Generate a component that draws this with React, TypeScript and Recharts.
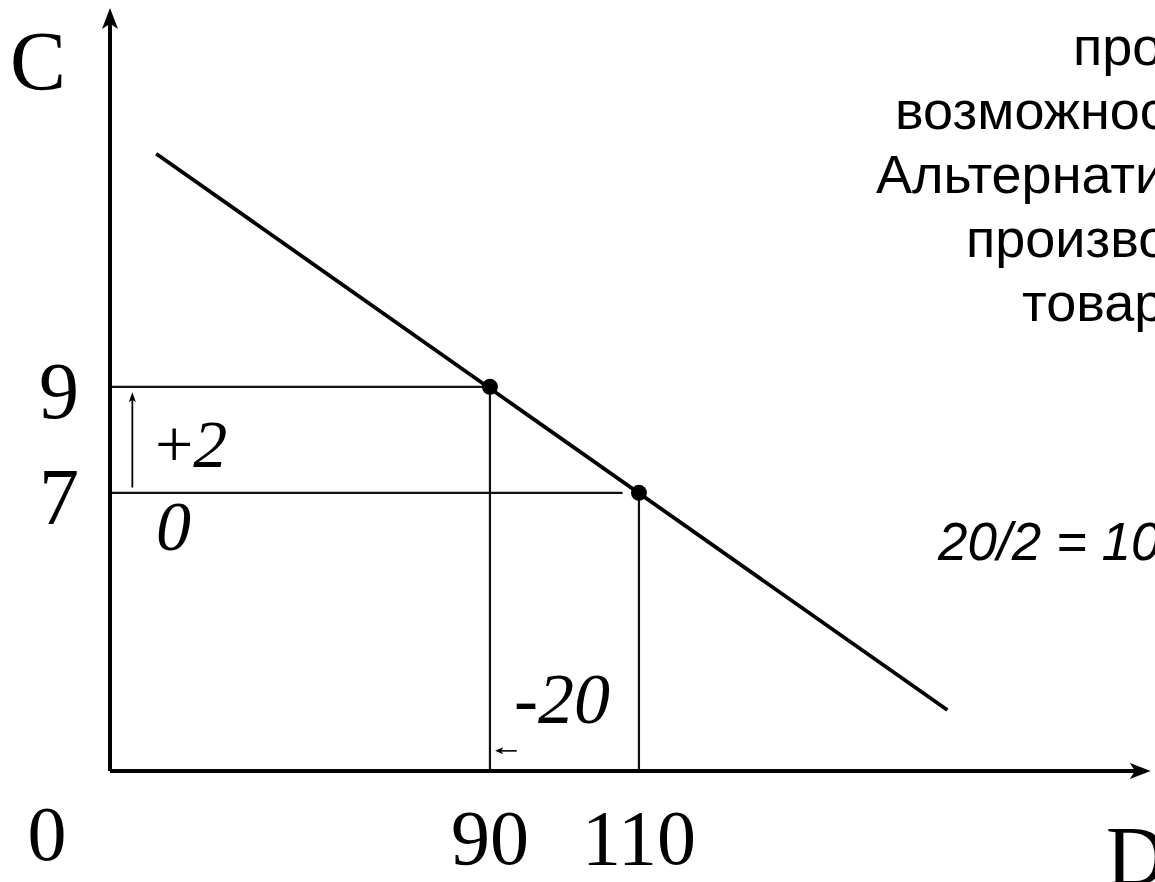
import { ComposedChart, Line, Scatter, XAxis, YAxis, ReferenceLine } from 'recharts';

// scale domains (schematic axes, origin is not at 0)
const domainD: [number, number] = [39, 179];
const domainC: [number, number] = [1.75, 16.15];

// demand line end points
const demandD = [45.2, 151.4];
const demandC = [13.4, 2.9];

// the two marked points
const pointD = [90, 110];
const pointC = [9, 7];

const dTicks = [90, 110];
const cTicks = [7, 9];

// small shift arrows: +2 (vertical at d=42), -20 (horizontal at c=2.13)
const upArrowD = 42;
const upArrowC = [7.1, 8.9];
const leftArrowC = 2.13;
const leftArrowD = [93.6, 90.7];

const noteLines = ['про', 'возможнос', 'Альтернати', 'произво', 'товар'];

const serif = '"Liberation Serif", "Times New Roman", serif';
const sans = '"Liberation Sans", Arial, sans-serif';

const demand = demandD.map((d, i) => ({ d, c: demandC[i] }));
const points = pointD.map((d, i) => ({ d, c: pointC[i] }));

const arrowShape = (head: number, half: number, width: number) => (props: any) => {
    const { x1, y1, x2, y2 } = props;
    const len = Math.hypot(x2 - x1, y2 - y1) || 1;
    const ux = (x2 - x1) / len;
    const uy = (y2 - y1) / len;
    const bx = x2 - ux * head;
    const by = y2 - uy * head;
    const nx = -uy;
    const ny = ux;
    const notch = head * 0.75;
    const pts = [
        [x2, y2],
        [bx + nx * half, by + ny * half],
        [x2 - ux * notch, y2 - uy * notch],
        [bx - nx * half, by - ny * half],
    ];
    return (
        <g>
            <line x1={x1} y1={y1} x2={x2 - ux * notch} y2={y2 - uy * notch} stroke='#000' strokeWidth={width} />
            <polygon points={pts.map((p) => p.join(',')).join(' ')} fill='#000' />
        </g>
    );
};

const XTick = (p: any) => (
    <text x={p.x} y={p.y + 93} textAnchor='middle' fontFamily={serif} fontSize={78} fill='#000'>
        {p.payload.value}
    </text>
);

const YTick = (p: any) => (
    <text x={p.x - 51} y={p.y + 31} textAnchor='middle' fontFamily={serif} fontSize={80} fill='#000'>
        {p.payload.value}
    </text>
);

export default function App() {
    const noteX = [1073, 895, 876, 966, 1022];
    return (
        <div style={{ position: 'absolute', left: 0, top: 0, width: 1155, height: 882, overflow: 'hidden', background: '#fff' }}>
            <ComposedChart width={1155} height={882} margin={{ top: 8, right: 2, bottom: 0, left: 0 }}>
                <XAxis
                    type='number'
                    dataKey='d'
                    domain={domainD}
                    ticks={dTicks}
                    height={111}
                    axisLine={false}
                    tickLine={false}
                    tickSize={0}
                    tickMargin={0}
                    tick={XTick}
                    allowDataOverflow
                />
                <YAxis
                    type='number'
                    dataKey='c'
                    domain={domainC}
                    ticks={cTicks}
                    width={110}
                    axisLine={false}
                    tickLine={false}
                    tickSize={0}
                    tickMargin={0}
                    tick={YTick}
                    allowDataOverflow
                />

                {/* guide lines */}
                <ReferenceLine segment={[{ x: domainD[0], y: pointC[0] }, { x: pointD[0], y: pointC[0] }]} stroke='#111' strokeWidth={2.2} ifOverflow='visible' />
                <ReferenceLine segment={[{ x: domainD[0], y: pointC[1] }, { x: 107.8, y: pointC[1] }]} stroke='#111' strokeWidth={2.2} ifOverflow='visible' />
                <ReferenceLine segment={[{ x: pointD[0], y: pointC[0] }, { x: pointD[0], y: domainC[0] }]} stroke='#111' strokeWidth={2.2} ifOverflow='visible' />
                <ReferenceLine segment={[{ x: pointD[1], y: pointC[1] }, { x: pointD[1], y: domainC[0] }]} stroke='#111' strokeWidth={2.2} ifOverflow='visible' />

                {/* axes with arrows */}
                <ReferenceLine segment={[{ x: domainD[0], y: domainC[0] }, { x: domainD[0], y: domainC[1] }]} shape={arrowShape(21, 8, 4)} ifOverflow='visible' />
                <ReferenceLine segment={[{ x: domainD[0], y: domainC[0] }, { x: 178.7, y: domainC[0] }]} shape={arrowShape(21, 8, 4)} ifOverflow='visible' />

                {/* shift arrows */}
                <ReferenceLine segment={[{ x: upArrowD, y: upArrowC[0] }, { x: upArrowD, y: upArrowC[1] }]} shape={arrowShape(10, 3.5, 1.8)} ifOverflow='visible' />
                <ReferenceLine segment={[{ x: leftArrowD[0], y: leftArrowC }, { x: leftArrowD[1], y: leftArrowC }]} shape={arrowShape(8, 3.5, 1.6)} ifOverflow='visible' />

                <Line data={demand} dataKey='c' type='linear' stroke='#000' strokeWidth={3.8} dot={false} activeDot={false} isAnimationActive={false} />
                <Scatter
                    data={points}
                    dataKey='c'
                    fill='#000'
                    isAnimationActive={false}
                    shape={(p: any) => <circle cx={p.cx} cy={p.cy} r={8} fill='#000' />}
                />

                <text x={10} y={90} fontFamily={serif} fontSize={84} fill='#000'>C</text>
                <text x={1106} y={885} fontFamily={serif} fontSize={84} fill='#000'>D</text>
                <text x={47} y={860} textAnchor='middle' fontFamily={serif} fontSize={78} fill='#000'>0</text>

                <text x={155} y={467} fontFamily={serif} fontSize={68} fill='#000'>
                    <tspan>+</tspan>
                    <tspan fontStyle='italic'>2</tspan>
                </text>
                <text x={156} y={550} fontFamily={serif} fontSize={70} fontStyle='italic' fill='#000'>0</text>
                <text x={514} y={723} fontFamily={serif} fontSize={72} fontStyle='italic' fill='#000'>-20</text>

                <text x={938} y={560} fontFamily={sans} fontSize={53} fontStyle='italic' fill='#000'>20/2 = 10</text>
                {noteLines.map((t, i) => (
                    <text key={t} x={noteX[i]} y={65 + i * 64} fontFamily={sans} fontSize={54} fill='#000'>
                        {t}
                    </text>
                ))}
            </ComposedChart>
        </div>
    );
}
